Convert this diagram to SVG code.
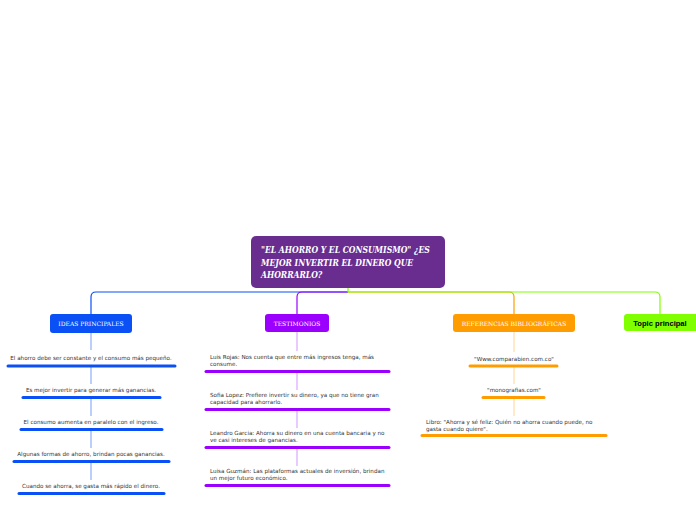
<svg xmlns="http://www.w3.org/2000/svg" width="696" height="520" viewBox="0 0 696 520">
<style>
.ct{font-family:"DejaVu Serif Condensed","DejaVu Serif","Liberation Serif",serif;font-style:italic;font-weight:bold;font-size:8.5px;fill:#fff}
.bt{font-family:"DejaVu Serif","Liberation Serif",serif;font-size:6px;fill:#fff;text-anchor:middle}
.tp{font-family:"Liberation Sans",Arial,sans-serif;font-weight:bold;font-size:7.6px;fill:#000;text-anchor:middle}
.t{font-family:"DejaVu Sans","Liberation Sans",Arial,sans-serif;font-size:5.6px;fill:#333}
.m{text-anchor:middle}
.ul{stroke-width:3;stroke-linecap:round;fill:none}
.c{fill:none;stroke-width:1.2}
.blue{stroke:#0a50f5}.purple{stroke:#9b00ff}.orange{stroke:#ff9d00}.green{stroke:#80ff00}
.lb{stroke:#8fb0f8}.lp{stroke:#d9a8ff}.lo{stroke:#ffdcaa}
</style>
<g id="connectors">
<path class="c blue" d="M348,292 H96 Q91,292 91,297 V314"/>
<path class="c purple" d="M348,292 H302 Q297,292 297,297 V314"/>
<path class="c orange" d="M348,292 H509 Q514,292 514,297 V314"/>
<path class="c green" d="M348,288 V292 H655 Q660,292 660,297 V314"/>
<path class="c lb" d="M91,333 V350 M91,367 V384 M91,398 V416 M91,430 V448 M91,462 V480"/>
<path class="c lp" d="M297,332 V351 M297,372 V390 M297,410 V428 M297,448 V466"/>
<path class="c lo" d="M514,332 V352 M514,367 V384 M514,398 V416"/>
</g>
<g id="central">
<rect x="251" y="236" width="194" height="52" rx="5" fill="#682d8f"/>
<text class="ct" x="261" y="253">"EL AHORRO Y EL CONSUMISMO" ¿ES</text>
<text class="ct" x="261" y="265.5">MEJOR INVERTIR EL DINERO QUE</text>
<text class="ct" x="261" y="278">AHORRARLO?</text>
</g>
<g id="ideas">
<rect x="50" y="314" width="82" height="19" rx="3" fill="#0a50f5"/>
<text class="bt" x="91" y="326">IDEAS PRINCIPALES</text>
</g>
<g id="testimonios">
<rect x="265" y="314" width="64" height="18" rx="3" fill="#9b00ff"/>
<text class="bt" x="297" y="325.5">TESTIMONIOS</text>
</g>
<g id="referencias">
<rect x="453" y="314" width="122" height="18" rx="3" fill="#ff9d00"/>
<text class="bt" x="514" y="325.5">REFERENCIAS BIBLIOGRÁFICAS</text>
</g>
<g id="topic">
<rect x="624" y="314" width="74" height="17" rx="3" fill="#80ff00"/>
<text class="tp" x="660" y="325.5">Topic principal</text>
</g>
<g id="idea1">
<text class="t m" x="91" y="360">El ahorro debe ser constante y el consumo más pequeño.</text>
<path class="ul blue" d="M8,366 H175"/>
</g>
<g id="idea2">
<text class="t m" x="91" y="392">Es mejor invertir para generar más ganancias.</text>
<path class="ul blue" d="M23,397.5 H160"/>
</g>
<g id="idea3">
<text class="t m" x="91" y="424">El consumo aumenta en paralelo con el ingreso.</text>
<path class="ul blue" d="M21,429.5 H162"/>
</g>
<g id="idea4">
<text class="t m" x="91" y="456">Algunas formas de ahorro, brindan pocas ganancias.</text>
<path class="ul blue" d="M14,461.5 H169"/>
</g>
<g id="idea5">
<text class="t m" x="91" y="488">Cuando se ahorra, se gasta más rápido el dinero.</text>
<path class="ul blue" d="M19,493.5 H164"/>
</g>
<g id="test1">
<text class="t" x="210" y="359">Luis Rojas: Nos cuenta que entre más ingresos tenga, más</text>
<text class="t" x="210" y="365.5">consume.</text>
<path class="ul purple" d="M206,371.5 H389"/>
</g>
<g id="test2">
<text class="t" x="210" y="397">Sofia Lopez: Prefiere invertir su dinero, ya que no tiene gran</text>
<text class="t" x="210" y="403.5">capacidad para ahorrarlo.</text>
<path class="ul purple" d="M206,409.5 H389"/>
</g>
<g id="test3">
<text class="t" x="210" y="435">Leandro Garcia: Ahorra su dinero en una cuenta bancaria y no</text>
<text class="t" x="210" y="441.5">ve casi intereses de ganancias.</text>
<path class="ul purple" d="M206,447.5 H389"/>
</g>
<g id="test4">
<text class="t" x="210" y="473">Luisa Guzmán: Las plataformas actuales de inversión, brindan</text>
<text class="t" x="210" y="479.5">un mejor futuro económico.</text>
<path class="ul purple" d="M206,485.5 H389"/>
</g>
<g id="ref1">
<text class="t m" x="514" y="361">"Www.comparabien.com.co"</text>
<path class="ul orange" d="M470,366 H557"/>
</g>
<g id="ref2">
<text class="t m" x="514" y="392">"monografias.com"</text>
<path class="ul orange" d="M483,397.5 H544"/>
</g>
<g id="ref3">
<text class="t" x="426" y="424">Libro: "Ahorra y sé feliz: Quién no ahorra cuando puede, no</text>
<text class="t" x="426" y="430.5">gasta cuando quiere".</text>
<path class="ul orange" d="M422,435.5 H606"/>
</g>
</svg>
